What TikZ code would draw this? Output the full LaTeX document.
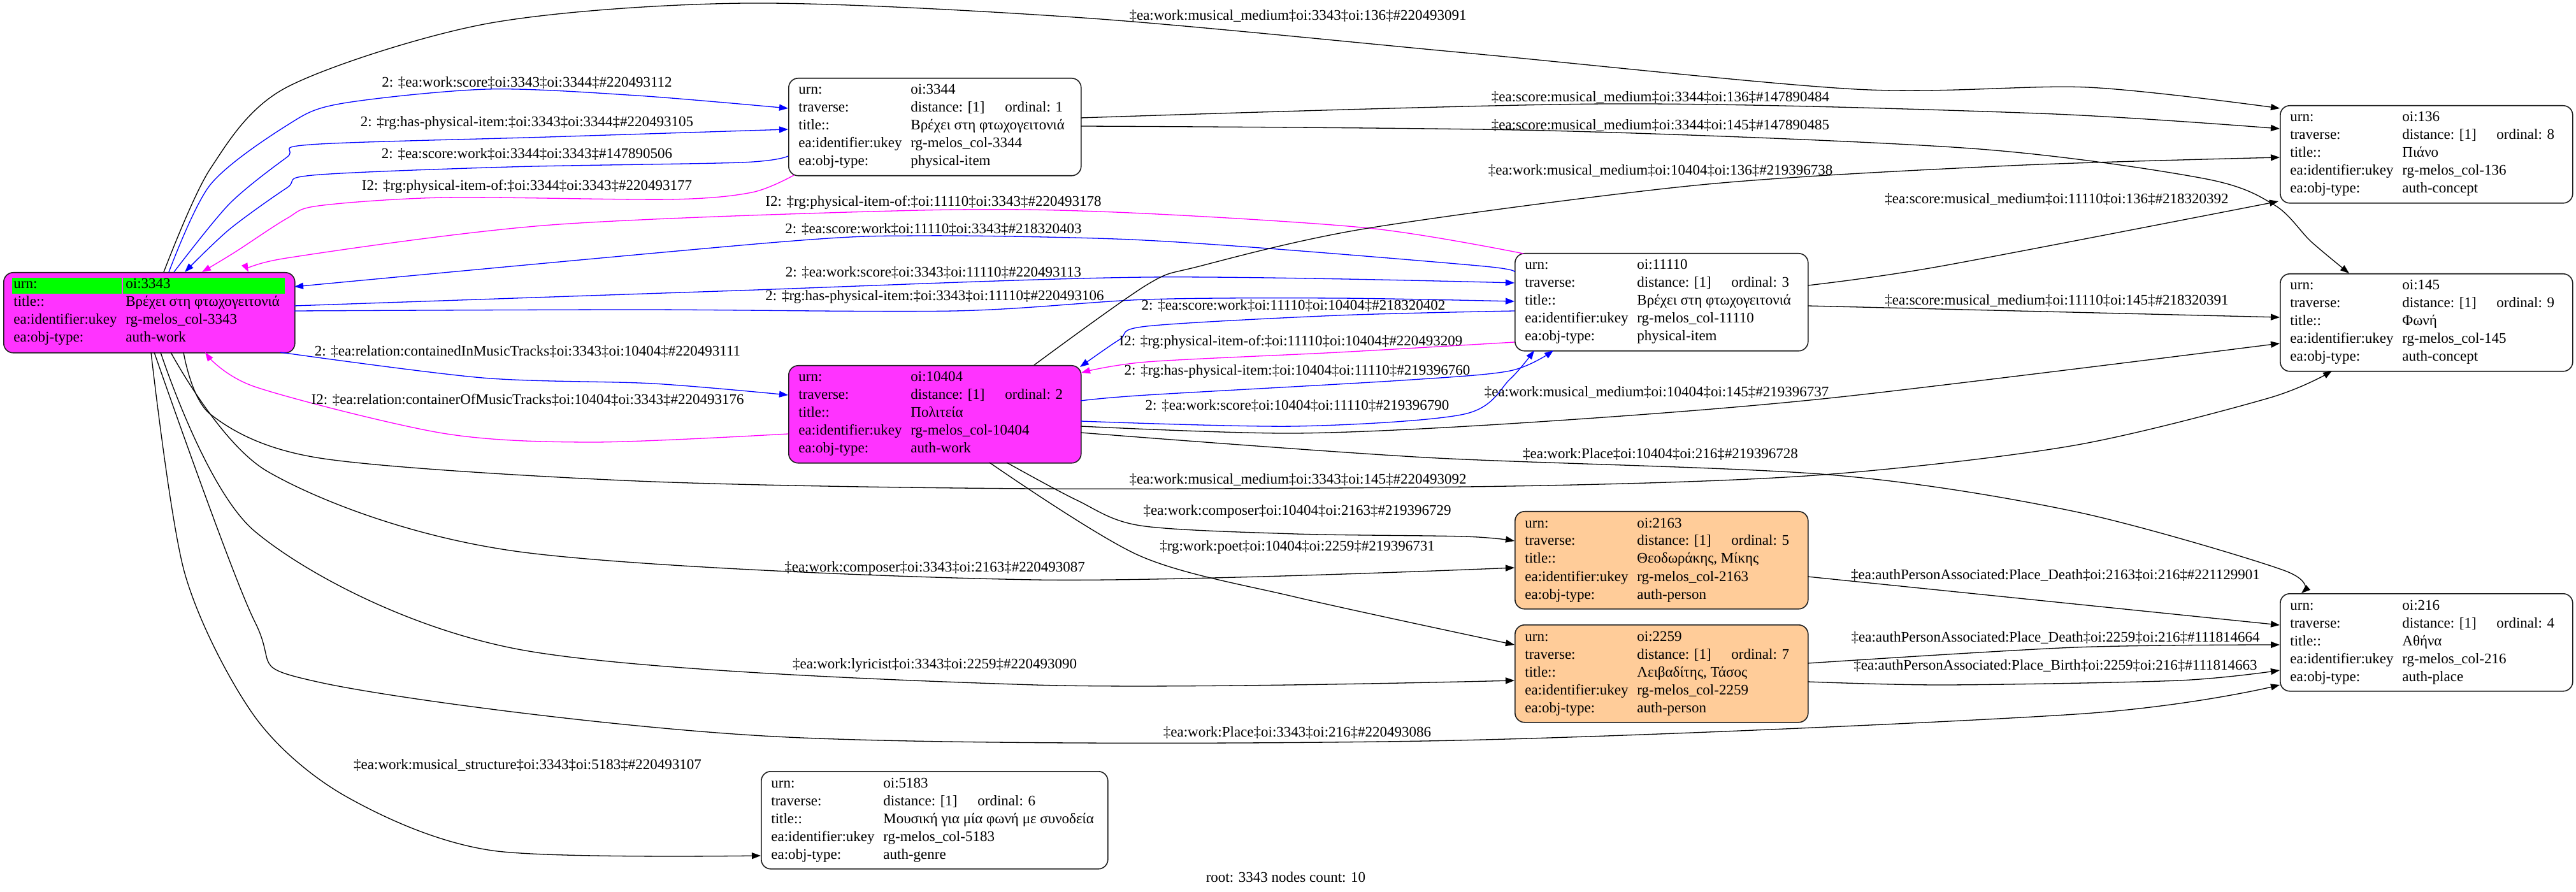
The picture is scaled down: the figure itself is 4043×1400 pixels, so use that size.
\documentclass[tikz,border=0pt]{standalone}
\usepackage{fontspec}
\setmainfont{Liberation Serif}
\usetikzlibrary{arrows.meta,calc}
\definecolor{magfill}{RGB}{255,51,255}
\definecolor{peach}{RGB}{255,204,153}
\definecolor{hlgreen}{RGB}{0,255,0}
\definecolor{edgeblue}{RGB}{0,0,255}
\definecolor{edgemag}{RGB}{255,0,255}
\definecolor{boxline}{RGB}{30,30,30}
\tikzset{
 recbox/.style={draw=boxline, line width=0.8pt, rounded corners=7.5pt, inner sep=0pt, anchor=north west},
 celltxt/.style={anchor=base west, inner sep=0pt, font=\fontsize{11.5}{13}\selectfont},
 elabel/.style={anchor=center, inner sep=0pt, font=\fontsize{11.5}{13}\selectfont},
 conn/.style={line width=0.65pt, -{Triangle[length=7pt,width=5pt]}},
 cblack/.style={conn, draw=black},
 cblue/.style={conn, draw=edgeblue},
 cmag/.style={conn, draw=edgemag},
}
\newcommand\mkrec[6]{\node[recbox, fill=#6, minimum width=#4*0.5pt, minimum height=#5*0.5pt] (#1) at (#2,#3) {};}
\newcommand\mkrow[4]{%
 \node[celltxt] (#1-l#2) at ($(#1.north west)+(16,26+28*#2)$) {#3};
 \node[celltxt] (#1-v#2) at ($(#1.north west)+(192,26+28*#2)$) {#4};}
\newcommand\mkord[2]{\node[celltxt] (#1-o) at ($(#1.north west)+(340,54)$) {#2};}
\newcommand\mkfive[8]{%
 \mkrec{#1}{#2}{#3}{#4}{153}{#5}
 \mkrow{#1}{0}{urn:}{#6}
 \mkrow{#1}{1}{traverse:}{distance: [1]}
 \mkord{#1}{ordinal: #7}
 \mkrow{#1}{2}{title::}{#8}}
\newcommand\mkrest[3]{%
 \mkrow{#1}{3}{ea:identifier:ukey}{#2}
 \mkrow{#1}{4}{ea:obj-type:}{#3}}
\begin{document}
\begin{tikzpicture}[x=0.5pt,y=-0.5pt]
\fill[white] (0,0) rectangle (4043,1400);
\useasboundingbox (0,0) rectangle (4043,1400);

% ---------- nodes ----------
\mkrec{n3343}{5}{427}{457}{126}{magfill}
\fill[hlgreen] ($(n3343.north west)+(14,9)$) rectangle ($(n3343.north west)+(186,34)$);
\fill[hlgreen] ($(n3343.north west)+(188,9)$) rectangle ($(n3343.north west)+(442,34)$);
\mkrow{n3343}{0}{urn:}{oi:3343}
\mkrow{n3343}{1}{title::}{Βρέχει στη φτωχογειτονιά}
\mkrow{n3343}{2}{ea:identifier:ukey}{rg-melos\_col-3343}
\mkrow{n3343}{3}{ea:obj-type:}{auth-work}

\mkfive{n3344}{1237}{122}{459}{white}{oi:3344}{1}{Βρέχει στη φτωχογειτονιά}
\mkrest{n3344}{rg-melos\_col-3344}{physical-item}

\mkfive{n10404}{1237}{573}{459}{magfill}{oi:10404}{2}{Πολιτεία}
\mkrest{n10404}{rg-melos\_col-10404}{auth-work}

\mkfive{n11110}{2377}{397}{460}{white}{oi:11110}{3}{Βρέχει στη φτωχογειτονιά}
\mkrest{n11110}{rg-melos\_col-11110}{physical-item}

\mkfive{n2163}{2377}{802}{460}{peach}{oi:2163}{5}{Θεοδωράκης, Μίκης}
\mkrest{n2163}{rg-melos\_col-2163}{auth-person}

\mkfive{n2259}{2377}{980}{460}{peach}{oi:2259}{7}{Λειβαδίτης, Τάσος}
\mkrest{n2259}{rg-melos\_col-2259}{auth-person}

\mkfive{n136}{3578}{165}{459}{white}{oi:136}{8}{Πιάνο}
\mkrest{n136}{rg-melos\_col-136}{auth-concept}

\mkfive{n145}{3578}{429}{459}{white}{oi:145}{9}{Φωνή}
\mkrest{n145}{rg-melos\_col-145}{auth-concept}

\mkfive{n216}{3578}{931}{459}{white}{oi:216}{4}{Αθήνα}
\mkrest{n216}{rg-melos\_col-216}{auth-place}

\mkfive{n5183}{1194}{1210}{544}{white}{oi:5183}{6}{Μουσική για μία φωνή με συνοδεία}
\mkrest{n5183}{rg-melos\_col-5183}{auth-genre}

% ---------- connector end points ----------
\coordinate (s1) at ($(n3343.north west)+(252,0)$);   \coordinate (t1) at ($(n136.north west)+(0,5)$);
\coordinate (s2) at ($(n3343.north west)+(260,0)$);   \coordinate (t2) at ($(n3344.north west)+(0,48)$);
\coordinate (s3) at ($(n3343.north west)+(268,0)$);   \coordinate (t3) at ($(n3344.north west)+(0,81)$);
\coordinate (s4) at ($(n3344.north west)+(0,123)$);   \coordinate (t4) at ($(n3343.north west)+(285,0)$);
\coordinate (s5) at ($(n3344.north west)+(9,153)$);   \coordinate (t5) at ($(n3343.north west)+(312,0)$);
\coordinate (s6) at ($(n11110.north west)+(14,1)$);   \coordinate (t6) at ($(n3343.north west)+(385,0)$);
\coordinate (s7) at ($(n11110.north west)+(0,30)$);   \coordinate (t7) at ($(n3343.north west)+(457,23)$);
\coordinate (s8) at ($(n3343.north west)+(457,53)$);  \coordinate (t8) at ($(n11110.north west)+(0,47)$);
\coordinate (s9) at ($(n3343.north west)+(457,61)$);  \coordinate (t9) at ($(n11110.north west)+(0,76)$);
\coordinate (s10) at ($(n3343.north west)+(435,126)$); \coordinate (t10) at ($(n10404.north west)+(0,47)$);
\coordinate (s11) at ($(n10404.north west)+(0,108)$); \coordinate (t11) at ($(n3343.north west)+(317,126)$);
\coordinate (s12) at ($(n3344.north west)+(459,63)$); \coordinate (t12) at ($(n136.north west)+(0,37)$);
\coordinate (s13) at ($(n3344.north west)+(459,76)$); \coordinate (t13) at ($(n145.north west)+(109,0)$);
\coordinate (s14) at ($(n10404.north west)+(386,0)$); \coordinate (t14) at ($(n136.north west)+(0,82)$);
\coordinate (s15) at ($(n11110.north west)+(460,51)$); \coordinate (t15) at ($(n136.north west)+(-2,151)$);
\coordinate (s16) at ($(n11110.north west)+(460,83)$); \coordinate (t16) at ($(n145.north west)+(0,69)$);
\coordinate (s17) at ($(n10404.north west)+(459,96)$); \coordinate (t17) at ($(n145.north west)+(0,110)$);
\coordinate (s18) at ($(n10404.north west)+(459,106)$); \coordinate (t18) at ($(n216.north west)+(34,0)$);
\coordinate (s19) at ($(n3343.north west)+(283,126)$); \coordinate (t19) at ($(n145.north west)+(82,153)$);
\coordinate (s20) at ($(n10404.north west)+(343,153)$); \coordinate (t20) at ($(n2163.north west)+(0,47)$);
\coordinate (s21) at ($(n10404.north west)+(316,153)$); \coordinate (t21) at ($(n2259.north west)+(0,32)$);
\coordinate (s22) at ($(n3343.north west)+(263,126)$); \coordinate (t22) at ($(n2163.north west)+(0,89)$);
\coordinate (s23) at ($(n3343.north west)+(247,126)$); \coordinate (t23) at ($(n2259.north west)+(0,88)$);
\coordinate (s24) at ($(n3343.north west)+(237,126)$); \coordinate (t24) at ($(n216.north west)+(0,144)$);
\coordinate (s25) at ($(n3343.north west)+(232,126)$); \coordinate (t25) at ($(n5183.north west)+(0,133)$);
\coordinate (s26) at ($(n2163.north west)+(460,103)$); \coordinate (t26) at ($(n216.north west)+(0,50)$);
\coordinate (s27) at ($(n2259.north west)+(460,61)$); \coordinate (t27) at ($(n216.north west)+(0,81)$);
\coordinate (s28) at ($(n2259.north west)+(460,90)$); \coordinate (t28) at ($(n216.north west)+(0,121)$);
\coordinate (s29) at ($(n11110.north west)+(0,91)$); \coordinate (t29) at ($(n10404.north west)+(458,3)$);
\coordinate (s30) at ($(n11110.north west)+(0,140)$); \coordinate (t30) at ($(n10404.north west)+(460,12)$);
\coordinate (s31) at ($(n10404.north west)+(459,56)$); \coordinate (t31) at ($(n11110.north west)+(61,153)$);
\coordinate (s32) at ($(n10404.north west)+(459,88)$); \coordinate (t32) at ($(n11110.north west)+(31,153)$);

% ---------- connectors ----------
\draw[cblack] plot[smooth] coordinates {(s1) (330,265) (450,137) (765,37) (1171,5) (1700,28) (2300,83) (2912,140) (3276,137) (t1)};
\draw[cblue] plot[smooth] coordinates {(s2) (330,290) (450,197) (533,163) (765,140) (1000,150) (t2)};
\draw[cblue] plot[smooth] coordinates {(s3) (360,320) (450,247) (487,227) (860,215) (t3)};
\draw[cblue] plot[smooth] coordinates {(s4) (1163,255) (800,262) (491,275) (450,295) (360,360) (t4)};
\draw[cmag] plot[smooth] coordinates {(s5) (1180,302) (1050,313) (699,310) (500,323) (450,343) (370,395) (t5)};
\draw[cmag] plot[smooth] coordinates {(s6) (2148,358) (1750,333) (1445,330) (865,353) (450,405) (t6)};
\draw[cblue] plot[smooth] coordinates {(s7) (2330,418) (1991,390) (1750,375) (1445,370) (1221,380) (t7)};
\draw[cblue] plot[smooth] coordinates {(s8) (1130,457) (1800,435) (t8)};
\draw[cblue] plot[smooth] coordinates {(s9) (1000,486) (1498,488) (1800,470) (2100,468) (t9)};
\draw[cblue] plot[smooth] coordinates {(s10) (757,593) (1025,602) (t10)};
\draw[cmag] plot[smooth] coordinates {(s11) (930,694) (695,680) (400,607) (t11)};
\draw[cblack] plot[smooth] coordinates {(s12) (2524,163) (3200,178) (t12)};
\draw[cblack] plot[smooth] coordinates {(s13) (2427,205) (3094,233) (3458,280) (3570,322) (3627,379) (t13)};
\draw[cblack] plot[smooth] coordinates {(s14) (1800,447) (1882,418) (2148,358) (2670,290) (3155,260) (t14)};
\draw[cblack] plot[smooth] coordinates {(s15) (3045,418) (t15)};
\draw[cblack] (s16) -- (t16);
\draw[cblack] plot[smooth] coordinates {(s17) (2033,680) (2400,663) (2870,625) (t17)};
\draw[cblack] plot[smooth] coordinates {(s18) (2237,718) (2870,745) (3257,803) (3584,895) (t18)};
\draw[cblack] plot[smooth] coordinates {(s19) (330,650) (502,719) (1000,755) (1624,767) (2370,763) (2849,746) (3250,700) (3560,625) (t19)};
\draw[cblack] plot[smooth] coordinates {(s20) (1690,785) (1790,825) (2033,838) (2298,842) (t20)};
\draw[cblack] plot[smooth] coordinates {(s21) (1788,872) (2033,937) (t21)};
\draw[cblack] plot[smooth] coordinates {(s22) (420,740) (808,865) (1624,910) (t22)};
\draw[cblack] plot[smooth] coordinates {(s23) (400,834) (808,1018) (1624,1075) (t23)};
\draw[cblack] plot[smooth] coordinates {(s24) (400,976) (502,1071) (1216,1156) (2237,1163) (3257,1121) (t24)};
\draw[cblack] plot[smooth] coordinates {(s25) (290,900) (400,1125) (543,1250) (773,1335) (t25)};
\draw[cblack] (s26) -- (t26);
\draw[cblack] plot[smooth] coordinates {(s27) (3257,1016) (t27)};
\draw[cblack] plot[smooth] coordinates {(s28) (3053,1075) (3420,1068) (t28)};
\draw[cblue] plot[smooth] coordinates {(s29) (2100,495) (1800,512) (1757,533) (t29)};
\draw[cmag] plot[smooth] coordinates {(s30) (2100,553) (1800,568) (t30)};
\draw[cblue] plot[smooth] coordinates {(s31) (1800,620) (2200,597) (2370,582) (t31)};
\draw[cblue] plot[smooth] coordinates {(s32) (2033,669) (2298,650) (2370,595) (t32)};

% ---------- labels ----------
\node[elabel] (l1) at (2037,25) {‡ea:work:musical\_medium‡oi:3343‡oi:136‡\#220493091};
\node[elabel] (l2) at (827,130) {2: ‡ea:work:score‡oi:3343‡oi:3344‡\#220493112};
\node[elabel] (l3) at (827,193) {2: ‡rg:has-physical-item:‡oi:3343‡oi:3344‡\#220493105};
\node[elabel] (l4) at (827,242) {2: ‡ea:score:work‡oi:3344‡oi:3343‡\#147890506};
\node[elabel] (l5) at (827,293) {I2: ‡rg:physical-item-of:‡oi:3344‡oi:3343‡\#220493177};
\node[elabel] (l6) at (1465,318) {I2: ‡rg:physical-item-of:‡oi:11110‡oi:3343‡\#220493178};
\node[elabel] (l7) at (1465,360) {2: ‡ea:score:work‡oi:11110‡oi:3343‡\#218320403};
\node[elabel] (l8) at (1465,428) {2: ‡ea:work:score‡oi:3343‡oi:11110‡\#220493113};
\node[elabel] (l9) at (1467,466) {2: ‡rg:has-physical-item:‡oi:3343‡oi:11110‡\#220493106};
\node[elabel] (l10) at (828,552) {2: ‡ea:relation:containedInMusicTracks‡oi:3343‡oi:10404‡\#220493111};
\node[elabel] (l11) at (828,628) {I2: ‡ea:relation:containerOfMusicTracks‡oi:10404‡oi:3343‡\#220493176};
\node[elabel] (l12) at (2606,153) {‡ea:score:musical\_medium‡oi:3344‡oi:136‡\#147890484};
\node[elabel] (l13) at (2606,197) {‡ea:score:musical\_medium‡oi:3344‡oi:145‡\#147890485};
\node[elabel] (l14) at (2606,268) {‡ea:work:musical\_medium‡oi:10404‡oi:136‡\#219396738};
\node[elabel] (l15) at (3228,313) {‡ea:score:musical\_medium‡oi:11110‡oi:136‡\#218320392};
\node[elabel] (l16) at (3228,472) {‡ea:score:musical\_medium‡oi:11110‡oi:145‡\#218320391};
\node[elabel] (l17) at (2600,616) {‡ea:work:musical\_medium‡oi:10404‡oi:145‡\#219396737};
\node[elabel] (l18) at (2606,713) {‡ea:work:Place‡oi:10404‡oi:216‡\#219396728};
\node[elabel] (l19) at (2037,753) {‡ea:work:musical\_medium‡oi:3343‡oi:145‡\#220493092};
\node[elabel] (l20) at (2036,803) {‡ea:work:composer‡oi:10404‡oi:2163‡\#219396729};
\node[elabel] (l21) at (2036,859) {‡rg:work:poet‡oi:10404‡oi:2259‡\#219396731};
\node[elabel] (l22) at (1467,892) {‡ea:work:composer‡oi:3343‡oi:2163‡\#220493087};
\node[elabel] (l23) at (1467,1044) {‡ea:work:lyricist‡oi:3343‡oi:2259‡\#220493090};
\node[elabel] (l24) at (2036,1150) {‡ea:work:Place‡oi:3343‡oi:216‡\#220493086};
\node[elabel] (l25) at (828,1201) {‡ea:work:musical\_structure‡oi:3343‡oi:5183‡\#220493107};
\node[elabel] (l26) at (3226,903) {‡ea:authPersonAssociated:Place\_Death‡oi:2163‡oi:216‡\#221129901};
\node[elabel] (l27) at (3226,1001) {‡ea:authPersonAssociated:Place\_Death‡oi:2259‡oi:216‡\#111814664};
\node[elabel] (l28) at (3226,1045) {‡ea:authPersonAssociated:Place\_Birth‡oi:2259‡oi:216‡\#111814663};
\node[elabel] (l29) at (2030,480) {2: ‡ea:score:work‡oi:11110‡oi:10404‡\#218320402};
\node[elabel] (l30) at (2026,537) {I2: ‡rg:physical-item-of:‡oi:11110‡oi:10404‡\#220493209};
\node[elabel] (l31) at (2036,583) {2: ‡rg:has-physical-item:‡oi:10404‡oi:11110‡\#219396760};
\node[elabel] (l32) at (2036,637) {2: ‡ea:work:score‡oi:10404‡oi:11110‡\#219396790};
\node[elabel] (footer) at (2018,1377) {root: 3343 nodes count: 10};
\end{tikzpicture}
\end{document}
